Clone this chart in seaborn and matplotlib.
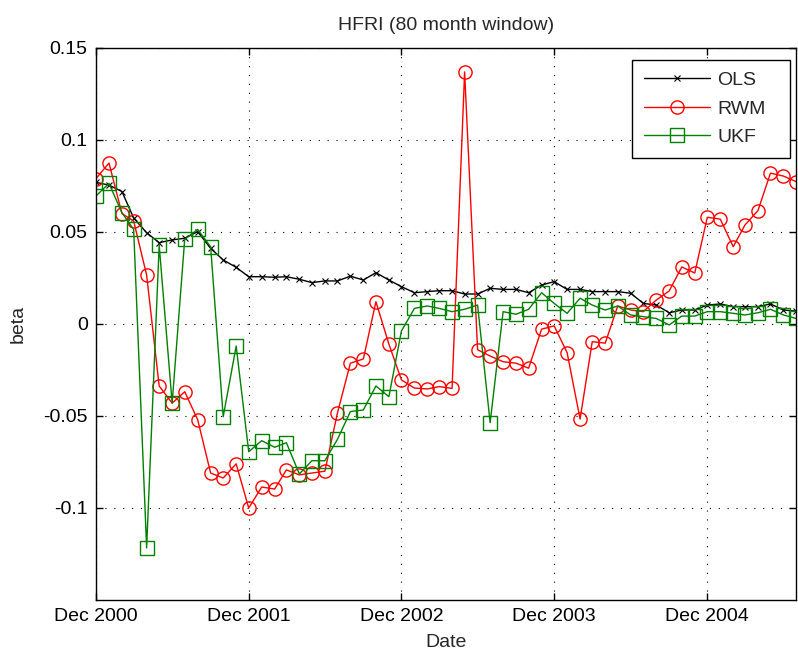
import numpy as np
import pandas as pd
import matplotlib
matplotlib.use("Agg")
import matplotlib.pyplot as plt
import matplotlib.dates as mdates
import seaborn as sns

# Monthly observations, Dec 2000 .. Jul 2005
dates = pd.date_range("2000-12-01", "2005-07-01", freq="MS")

ols = [0.077, 0.0755, 0.072, 0.0576, 0.0496, 0.0442, 0.0457, 0.0466, 0.0502, 0.0411,
       0.0348, 0.0308, 0.0257, 0.0257, 0.0254, 0.0257, 0.0243, 0.0225, 0.0234, 0.0234,
       0.026, 0.0239, 0.0279, 0.0239, 0.0203, 0.017, 0.0176, 0.0181, 0.0181, 0.0163,
       0.0163, 0.0194, 0.0188, 0.0188, 0.017, 0.0212, 0.023, 0.0188, 0.0188, 0.0176,
       0.0176, 0.0176, 0.0167, 0.0112, 0.0103, 0.0061, 0.0076, 0.0076, 0.0103, 0.0109,
       0.0094, 0.0094, 0.0094, 0.0109, 0.0076, 0.007]

rwm = [0.079, 0.0875, 0.060, 0.056, 0.0266, -0.0337, -0.043, -0.0368, -0.052, -0.081,
       -0.0837, -0.076, -0.100, -0.0886, -0.0897, -0.0793, -0.082, -0.081, -0.080, -0.0484,
       -0.0213, -0.019, 0.0121, -0.0109, -0.0304, -0.0348, -0.0353, -0.034, -0.035, 0.137,
       -0.014, -0.0174, -0.0205, -0.0213, -0.024, -0.0028, -0.001, -0.0156, -0.0517, -0.0096,
       -0.0104, 0.0098, 0.0076, 0.0067, 0.013, 0.018, 0.031, 0.0277, 0.058, 0.057,
       0.042, 0.0538, 0.0616, 0.082, 0.0804, 0.0774]

ukf = [0.0696, 0.0764, 0.0605, 0.0514, -0.1217, 0.0429, -0.043, 0.046, 0.0514, 0.042,
       -0.0504, -0.012, -0.0694, -0.0634, -0.067, -0.0645, -0.0815, -0.0743, -0.0743, -0.0627,
       -0.0476, -0.0467, -0.0337, -0.0395, -0.0038, 0.0085, 0.0098, 0.0085, 0.0067, 0.008,
       0.0103, -0.0536, 0.0067, 0.0053, 0.008, 0.017, 0.0112, 0.0058, 0.014, 0.0103,
       0.0076, 0.0098, 0.0049, 0.004, 0.003, -0.0005, 0.0043, 0.0043, 0.0067, 0.0067,
       0.0058, 0.0049, 0.0061, 0.008, 0.0049, 0.003]

yticks = [-0.1, -0.05, 0, 0.05, 0.1, 0.15]
ytick_labels = ["-0.1", "-0.05", "0", "0.05", "0.1", "0.15"]

sns.set_style("white")
plt.rcParams["font.family"] = ["Liberation Sans", "DejaVu Sans"]
plt.rcParams["font.size"] = 14

fig = plt.figure(figsize=(7.98, 6.53), dpi=100)
ax = fig.add_axes([96 / 798, 1 - 600 / 653, (796 - 96) / 798, (600 - 48) / 653])

sns.lineplot(x=dates, y=ols, ax=ax, color="black", marker="x", markersize=5,
             markeredgecolor="black", markeredgewidth=0.8, linewidth=1.0, label="OLS")
sns.lineplot(x=dates, y=rwm, ax=ax, color="#ff0000", marker="o", markersize=9.5,
             markerfacecolor="none", markeredgecolor="#ff0000", markeredgewidth=1.0,
             linewidth=1.0, label="RWM")
sns.lineplot(x=dates, y=ukf, ax=ax, color="#008000", marker="s", markersize=9.5,
             markerfacecolor="none", markeredgecolor="#008000", markeredgewidth=1.0,
             linewidth=1.0, label="UKF")

ax.set_xlim(pd.Timestamp("2000-12-01"), pd.Timestamp("2005-07-01"))
ax.set_ylim(-0.15, 0.15)
ax.set_yticks(yticks)
ax.set_yticklabels(ytick_labels)
ax.xaxis.set_major_locator(mdates.MonthLocator(bymonth=12))
ax.xaxis.set_major_formatter(mdates.DateFormatter("%b %Y"))

ax.grid(True, color="black", linestyle=(0, (1, 7)), linewidth=0.8)
for s in ax.spines.values():
    s.set_color("black")
    s.set_linewidth(1.0)
ax.tick_params(direction="in", length=5, width=1, top=True, right=True,
               bottom=True, left=True, labelsize=14, pad=6, colors="black")

ax.set_title("HFRI (80 month window)", fontsize=14, pad=13)
ax.set_xlabel("Date", fontsize=14, labelpad=6)
ax.set_ylabel("beta", fontsize=14, labelpad=12)

leg = ax.legend(loc="upper left",
                bbox_to_anchor=(632 / 798, (653 - 158) / 653, 158 / 798, 98 / 653),
                bbox_transform=fig.transFigure, mode="expand", borderaxespad=0,
                fontsize=14, frameon=True, fancybox=False,
                edgecolor="black", framealpha=1, handlelength=3.4,
                handletextpad=0.4, borderpad=0.6, labelspacing=0.55)
leg.get_frame().set_linewidth(1.0)

fig.savefig("out.png", dpi=100)
